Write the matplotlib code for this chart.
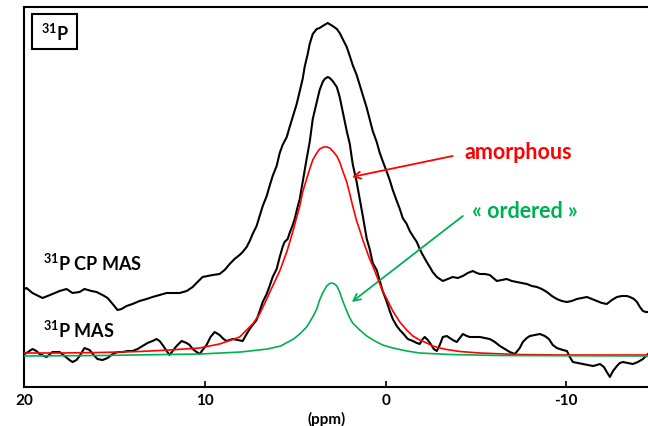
import matplotlib
matplotlib.use('Agg')
import matplotlib.pyplot as plt
from matplotlib.patches import Rectangle

# ==========================================
# DATOS (ppm, intensidad relativa)
# ==========================================
CP_PPM = [20.0, 19.89, 19.56, 19.0, 18.45, 18.06, 17.67, 17.34, 16.95, 16.68,
          16.29, 16.01, 15.68, 15.40, 15.07, 14.85, 14.63, 14.35, 14.02, 13.63,
          13.24, 12.91, 12.52, 12.13, 11.80, 11.41, 11.02, 10.69, 10.42, 10.14,
          9.86, 9.58, 9.20, 8.92, 8.64, 8.37, 8.09, 7.92, 7.70, 7.53,
          7.37, 7.15, 6.98, 6.81, 6.59, 6.43, 6.26, 6.04, 5.87, 5.71,
          5.48, 5.32, 5.15, 4.93, 4.76, 4.60, 4.49, 4.32, 4.21, 4.04,
          3.82, 3.66, 3.49, 3.21, 2.94, 2.71, 2.55, 2.38, 2.16, 1.99,
          1.83, 1.61, 1.44, 1.27, 1.05, 0.89, 0.72, 0.50, 0.33, 0.17,
          -0.06, -0.22, -0.39, -0.61, -0.78, -0.94, -1.16, -1.33, -1.50, -1.72,
          -1.88, -2.05, -2.27, -2.44, -2.60, -2.83, -3.16, -3.43, -3.71, -3.99,
          -4.27, -4.54, -4.82, -5.04, -5.21, -5.48, -5.76, -6.15, -6.43, -6.70,
          -6.98, -7.26, -7.53, -7.81, -8.09, -8.37, -8.64, -8.92, -9.20, -9.47,
          -9.75, -10.03, -10.30, -10.58, -10.86, -11.14, -11.41, -11.69, -11.97, -12.24,
          -12.52, -12.80, -13.07, -13.35, -13.52, -13.74, -13.91, -14.07, -14.24, -14.40,
          -14.52]
CP_INT = [67, 68, 63, 58, 62, 65, 67, 63, 64, 67,
          65, 64, 61, 58, 51, 46, 47, 50, 52, 55,
          57, 59, 61, 63, 63, 63, 65, 69, 74, 79,
          80, 81, 82, 86, 92, 97, 101, 104, 109, 115,
          122, 130, 140, 150, 160, 170, 180, 190, 203, 211,
          219, 229, 239, 252, 265, 277, 289, 302, 312, 322,
          327, 328, 330, 333, 330, 327, 323, 317, 309, 300,
          291, 281, 271, 261, 248, 237, 225, 214, 203, 195,
          184, 176, 166, 155, 147, 138, 132, 125, 120, 114,
          107, 101, 94, 89, 84, 79, 75, 77, 79, 78,
          80, 83, 85, 83, 82, 82, 81, 75, 76, 77,
          75, 74, 73, 72, 70, 69, 67, 64, 60, 57,
          55, 54, 55, 57, 58, 59, 57, 55, 53, 52,
          56, 59, 60, 60, 59, 57, 54, 49, 45, 44,
          44]

MAS_PPM = [20.0, 19.89, 19.56, 19.34, 19.17, 18.78, 18.45, 18.06, 17.78, 17.51,
           17.34, 17.12, 16.95, 16.68, 16.40, 16.12, 15.96, 15.68, 15.40, 15.12,
           14.85, 14.57, 14.29, 14.02, 13.74, 13.46, 13.19, 12.91, 12.69, 12.52,
           12.35, 12.13, 11.97, 11.75, 11.58, 11.30, 11.02, 10.86, 10.69, 10.47,
           10.30, 10.14, 9.92, 9.70, 9.47, 9.20, 8.98, 8.81, 8.48, 8.20,
           7.92, 7.70, 7.53, 7.37, 7.15, 6.98, 6.81, 6.59, 6.43, 6.26,
           6.04, 5.87, 5.71, 5.60, 5.43, 5.32, 5.15, 5.04, 4.88, 4.76,
           4.60, 4.38, 4.21, 4.04, 3.82, 3.66, 3.49, 3.38, 3.21, 3.10,
           2.94, 2.71, 2.55, 2.38, 2.16, 1.99, 1.83, 1.61, 1.44, 1.27,
           1.05, 0.89, 0.72, 0.50, 0.33, 0.17, -0.06, -0.22, -0.39, -0.61,
           -0.78, -0.94, -1.22, -1.50, -1.72, -1.88, -2.05, -2.16, -2.33, -2.49,
           -2.66, -2.83, -2.99, -3.16, -3.38, -3.55, -3.71, -3.93, -4.10, -4.27,
           -4.49, -4.65, -4.93, -5.21, -5.48, -5.76, -6.04, -6.32, -6.59, -6.87,
           -7.15, -7.42, -7.59, -7.81, -7.98, -8.25, -8.53, -8.81, -9.03, -9.25,
           -9.47, -9.64, -9.81, -10.03, -10.19, -10.36, -10.64, -10.91, -11.19, -11.47,
           -11.69, -11.86, -12.08, -12.24, -12.41, -12.58, -12.80, -12.96, -13.13, -13.41,
           -13.68, -13.96, -14.24, -14.52]
MAS_INT = [2, 3, 7, 5, 2, -1, 4, 4, 0, -4,
           -6, -4, 0, 8, 6, 0, -3, -4, -2, 2,
           4, 4, 5, 5, 7, 10, 13, 15, 17, 15,
           11, 5, 1, 6, 10, 15, 13, 11, 7, 4,
           2, 6, 11, 19, 24, 21, 17, 15, 17, 16,
           15, 22, 27, 31, 36, 45, 54, 62, 70, 79,
           87, 99, 109, 114, 117, 123, 131, 137, 149, 157,
           174, 197, 214, 237, 254, 266, 274, 277, 279, 278,
           275, 269, 259, 244, 225, 212, 192, 174, 157, 140,
           117, 107, 93, 86, 75, 65, 54, 45, 37, 30,
           26, 23, 17, 15, 13, 12, 17, 19, 16, 12,
           7, 5, 11, 19, 20, 18, 16, 14, 18, 22,
           20, 19, 19, 19, 18, 17, 14, 10, 7, 4,
           2, 8, 14, 18, 20, 21, 22, 20, 17, 11,
           8, 7, 6, 5, -1, -6, -7, -8, -9, -10,
           -9, -8, -11, -16, -21, -15, -10, -7, -6, -7,
           -8, -6, -3, 2]

AMORFO_PPM = [20.0, 18.06, 15.85, 13.63, 11.97, 10.31, 9.20, 8.09, 7.37, 6.98,
              6.59, 6.26, 5.87, 5.48, 5.15, 4.76, 4.60, 4.38, 4.21, 4.04,
              3.82, 3.66, 3.43, 3.27, 3.10, 2.94, 2.71, 2.55, 2.38, 2.16,
              1.99, 1.83, 1.61, 1.44, 1.27, 1.05, 0.89, 0.72, 0.50, 0.33,
              0.17, -0.06, -0.39, -0.78, -1.16, -1.50, -1.88, -2.27, -2.60, -2.99,
              -3.38, -4.10, -5.21, -7.26, -9.64, -11.86, -14.52]
AMORFO_INT = [3, 3, 3.5, 4.5, 6, 8, 12, 19, 32, 42,
              57, 70, 85, 104, 124, 150, 164, 177, 187, 196,
              203, 207, 209, 209, 208, 205, 200, 194, 185, 174,
              162, 150, 135, 126, 116, 105, 97, 90, 80, 72,
              65, 57, 45, 34, 26, 20, 16, 13, 10, 8,
              6.5, 4.5, 3, 1.5, 1, 1, 1]

ORDENADO_PPM = [20.0, 15.79, 10.25, 8.03, 6.54, 5.82, 5.10, 4.76, 4.38, 4.04,
                3.82, 3.66, 3.49, 3.27, 3.10, 2.99, 2.83, 2.71, 2.55, 2.38,
                2.16, 1.99, 1.83, 1.44, 1.05, 0.61, 0.17, -0.39, -1.16, -1.88,
                -3.55, -6.32, -14.52]
ORDENADO_INT = [0, 0.5, 2, 4, 7, 10, 17, 22, 29, 39,
                47, 56, 63, 70, 72.5, 73, 72, 70, 64, 55,
                45, 38, 33, 26, 20, 15, 11, 8, 5, 3,
                1.5, 0.5, 0]

TICKS_PPM = [20, 10, 0, -10]

# ==========================================
# ESTILO
# ==========================================
FUENTE = 'Lato'
ROJO = '#FF0000'
VERDE = '#00B050'

plt.rcParams['font.family'] = [FUENTE, 'DejaVu Sans']
plt.rcParams['font.weight'] = 'bold'
# superindices (31P) en la misma fuente negrita
plt.rcParams['mathtext.fontset'] = 'custom'
plt.rcParams['mathtext.rm'] = 'Lato:bold'
plt.rcParams['mathtext.it'] = 'Lato:bold'
plt.rcParams['mathtext.bf'] = 'Lato:bold'
plt.rcParams['mathtext.default'] = 'rm'

fig = plt.figure(figsize=(6.48, 4.27), dpi=100)
ax = fig.add_axes([0.0378, 0.0925, 0.9622, 0.8888])

ax.plot(CP_PPM, CP_INT, color='black', linewidth=1.5, zorder=3)
ax.plot(MAS_PPM, MAS_INT, color='black', linewidth=1.5, zorder=3)
ax.plot(AMORFO_PPM, AMORFO_INT, color=ROJO, linewidth=1.2, zorder=4)
ax.plot(ORDENADO_PPM, ORDENADO_INT, color=VERDE, linewidth=1.2, zorder=4)

ax.set_xlim(20.0, -14.52)
ax.set_ylim(-30.5, 349)

for lado in ['left', 'top', 'bottom']:
    ax.spines[lado].set_linewidth(1.5)
ax.spines['right'].set_visible(False)

ax.set_xticks(TICKS_PPM)
ax.set_xticklabels([str(t) for t in TICKS_PPM])
ax.set_yticks([])
ax.tick_params(axis='x', direction='in', length=4, width=1.2, labelsize=11, pad=5)
for lbl in ax.get_xticklabels():
    lbl.set_fontweight('bold')

ax.set_xlabel('(ppm)', fontsize=11, fontweight='bold')
ax.xaxis.set_label_coords(0.484, -0.065)

# Etiquetas de espectros
ax.text(19.0, 94, r'$^{31}$P CP MAS', fontsize=13, fontweight='bold', va='center', ha='left')
ax.text(19.0, 27, r'$^{31}$P MAS', fontsize=13, fontweight='bold', va='center', ha='left')

# Recuadro 31P
ax.add_patch(Rectangle((0.0128, 0.889), 0.072, 0.0925, transform=ax.transAxes,
                       fill=False, edgecolor='black', linewidth=1.5, zorder=5))
ax.text(0.0489, 0.933, r'$^{31}$P', transform=ax.transAxes, fontsize=13, fontweight='bold',
        ha='center', va='center')

# Anotaciones con flechas
ax.annotate('', xy=(1.88, 179), xytext=(-3.71, 200),
            arrowprops=dict(arrowstyle='->,head_length=0.5,head_width=0.25', color=ROJO,
                            linewidth=1.3, shrinkA=0, shrinkB=0))
ax.text(-4.38, 204, 'amorphous', color=ROJO, fontsize=15.5, fontweight='bold',
        va='center', ha='left')

ax.annotate('', xy=(1.88, 54), xytext=(-4.27, 140),
            arrowprops=dict(arrowstyle='->,head_length=0.5,head_width=0.25', color=VERDE,
                            linewidth=1.3, shrinkA=0, shrinkB=0))
ax.text(-4.76, 145, '« ordered »', color=VERDE, fontsize=15.5, fontweight='bold',
        va='center', ha='left')

fig.savefig('out.png', dpi=100)
plt.close(fig)
